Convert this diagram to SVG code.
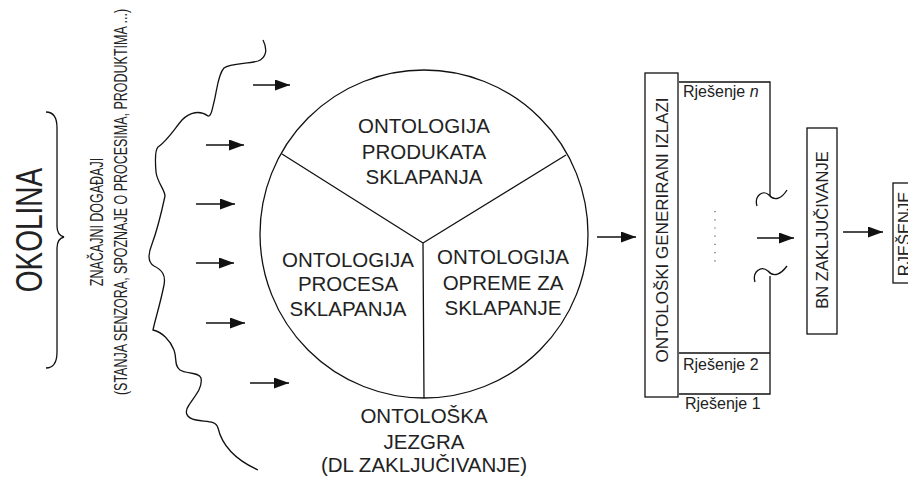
<svg xmlns="http://www.w3.org/2000/svg" width="908" height="477" viewBox="0 0 908 477">
  <defs>
    <marker id="arrowhead" markerUnits="userSpaceOnUse" markerWidth="15" markerHeight="11" refX="15" refY="5.5" orient="auto">
      <path d="M0,0 L15,5.5 L0,11 Z" fill="#111"/>
    </marker>
  </defs>
  <style>
    .ln { fill: none; stroke: #111; stroke-width: 1.3; }
    .box { fill: #fff; stroke: #111; stroke-width: 1.3; }
    .arr { fill: none; stroke: #111; stroke-width: 1.5; marker-end: url(#arrowhead); }
    .t { font-family: "Liberation Sans", Arial, sans-serif; fill: #222; }
    .big { font-size: 20.5px; text-anchor: middle; }
    .mid { font-size: 16.5px; text-anchor: middle; }
    .sol { font-size: 16px; }
  </style>

  <!-- environment label, brace and event description -->
  <g id="okolina">
    <text class="t" font-size="28" text-anchor="middle" transform="translate(42,230) rotate(-90) scale(1,1.3)">OKOLINA</text>
    <path class="ln" d="M46,112 C54,112 57,118 57,128 L57,226 C57,233 60,236 64,237 C60,238 57,241 57,248 L57,352 C57,362 54,368 46,368"/>
  </g>
  <g id="dogadaji">
    <text class="t" font-size="12.5" text-anchor="middle" transform="translate(103,222) rotate(-90) scale(1,1.4)">ZNAČAJNI DOGAĐAJI</text>
    <text class="t" font-size="12.5" text-anchor="middle" transform="translate(127,202) rotate(-90) scale(1,1.4)">(STANJA SENZORA, SPOZNAJE O PROCESIMA, PRODUKTIMA ...)</text>
  </g>

  <!-- boundary of the environment -->
  <g id="granica">
    <path class="ln" d="M263,40 C268,50 266,58 258,61 C248,64 230,63 224,68 C218,74 217,90 214,102 C212,110 211,117 208,116 C200,110 190,112 182,120 C175,128 168,140 158,147 C155,150 155,160 156,172 C157,182 165,190 165,196 C162,210 158,228 152,244 C148,254 147,262 154,266 C162,270 166,275 164,285 C160,305 155,320 153,330 C162,332 170,340 174,350 C177,358 174,366 180,370 C186,374 199,372 201,378 C203,388 194,397 189,405 C184,412 186,418 196,420 C206,422 216,420 218,428 C222,445 236,460 258,470"/>
  </g>

  <!-- ontology core -->
  <g id="jezgra">
    <circle class="ln" cx="424" cy="234" r="164"/>
    <path class="ln" d="M423,243 L282,154 M423,243 L566,155 M423,243 L424,398"/>
    <text class="t big"><tspan x="424" y="133">ONTOLOGIJA</tspan><tspan x="424" y="159">PRODUKATA</tspan><tspan x="424" y="184">SKLAPANJA</tspan></text>
    <text class="t big"><tspan x="348" y="267">ONTOLOGIJA</tspan><tspan x="348" y="291">PROCESA</tspan><tspan x="348" y="316">SKLAPANJA</tspan></text>
    <text class="t big"><tspan x="503" y="264">ONTOLOGIJA</tspan><tspan x="503" y="290">OPREME ZA</tspan><tspan x="503" y="315">SKLAPANJE</tspan></text>
    <text class="t big"><tspan x="424" y="423">ONTOLOŠKA</tspan><tspan x="424" y="449">JEZGRA</tspan><tspan x="424" y="472">(DL ZAKLJUČIVANJE)</tspan></text>
  </g>

  <!-- generated outputs -->
  <g id="rjesenja">
    <path class="ln" d="M679,82 L770,82 L770,196 M770,276 L770,394 L679,394 M679,353 L770,353"/>
    <path class="ln" d="M757,206 C754,196 763,189 769,195 C775,202 782,198 787,190"/>
    <path class="ln" d="M755,282 C752,272 761,265 768,271 C774,278 781,274 787,266"/>
    <path d="M715,211 L715,262" fill="none" stroke="#555" stroke-width="1.2" stroke-dasharray="1.2,7"/>
    <text class="t sol" x="683" y="97">Rješenje <tspan font-style="italic">n</tspan></text>
    <text class="t sol" x="683" y="370">Rješenje 2</text>
    <text class="t sol" x="685" y="409">Rješenje 1</text>
  </g>
  <g id="izlazi">
    <rect class="box" x="645" y="73" width="33" height="324"/>
    <text class="t" font-size="17" text-anchor="middle" transform="translate(668,230) rotate(-90)">ONTOLOŠKI GENERIRANI IZLAZI</text>
  </g>
  <g id="bn">
    <rect class="box" x="807" y="128" width="30" height="206"/>
    <text class="t mid" transform="translate(828,230) rotate(-90)">BN ZAKLJUČIVANJE</text>
  </g>
  <g id="rjesenje">
    <rect class="box" x="893" y="183" width="30" height="100"/>
    <text class="t mid" transform="translate(910,234) rotate(-90)">RJEŠENJE</text>
  </g>

  <!-- connectors -->
  <g id="connectors">
    <line class="arr" x1="253" y1="85" x2="290" y2="85"/>
    <line class="arr" x1="206" y1="145" x2="244" y2="145"/>
    <line class="arr" x1="196" y1="204" x2="235" y2="204"/>
    <line class="arr" x1="196" y1="263" x2="234" y2="263"/>
    <line class="arr" x1="206" y1="323" x2="245" y2="323"/>
    <line class="arr" x1="250" y1="383" x2="289" y2="383"/>
    <line class="arr" x1="597" y1="237" x2="636" y2="237"/>
    <line class="arr" x1="757" y1="238" x2="794" y2="238"/>
    <line class="arr" x1="843" y1="232" x2="883" y2="232"/>
  </g>
</svg>
